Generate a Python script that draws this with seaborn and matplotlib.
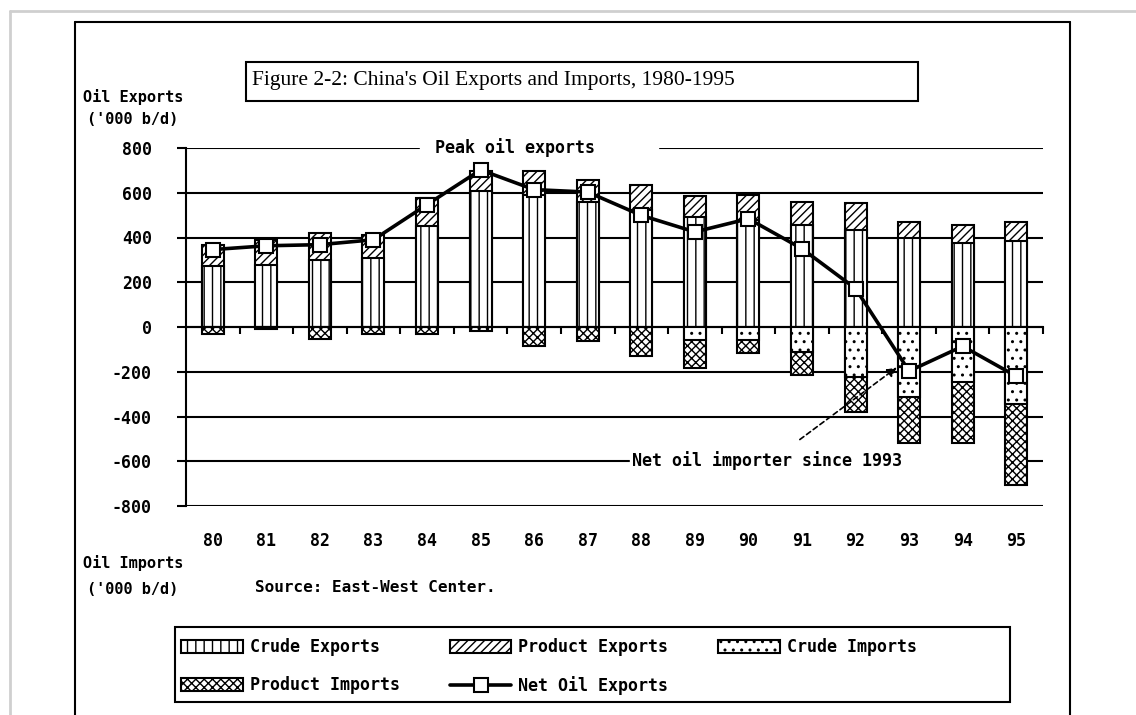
import numpy as np
import pandas as pd
import matplotlib
matplotlib.use("Agg")
import matplotlib.pyplot as plt
import seaborn as sns
from matplotlib.patches import Patch, Rectangle
from matplotlib.lines import Line2D

# ---------------- data ('000 b/d) ----------------
years = ['80', '81', '82', '83', '84', '85', '86', '87',
         '88', '89', '90', '91', '92', '93', '94', '95']
crude_exports = [271, 279, 301, 310, 450, 610, 590, 560, 525, 490, 480, 455, 435, 400, 376, 383]
product_exports = [97, 111, 119, 103, 125, 85, 105, 98, 111, 94, 112, 105, 120, 68, 80, 85]
crude_imports = [0, 0, 0, 0, 0, 0, 0, 0, 0, 56, 56, 113, 225, 312, 248, 346]
product_imports = [30, 8, 55, 30, 30, 20, 86, 63, 130, 126, 62, 103, 157, 206, 270, 358]
net_exports = [346, 363, 368, 390, 547, 702, 614, 603, 499, 425, 484, 350, 172, -197, -86, -220]
y_ticks = [800, 600, 400, 200, 0, -200, -400, -600, -800]

# ---------------- style ----------------
sns.set_theme(style='white')
plt.rcParams['font.family'] = ['DejaVu Sans Mono', 'DejaVu Sans']
plt.rcParams['font.weight'] = 'bold'
plt.rcParams['text.color'] = 'black'
plt.rcParams['xtick.color'] = 'black'
plt.rcParams['ytick.color'] = 'black'
plt.rcParams['axes.labelcolor'] = 'black'
plt.rcParams['hatch.linewidth'] = 1.0
plt.rcParams['hatch.color'] = 'black'

W, H = 1136, 715
fig = plt.figure(figsize=(W / 100, H / 100), dpi=100)
fig.patch.set_facecolor('white')


def fx(px):
    return px / W


def fy(py):
    return 1 - py / H


ax = fig.add_axes([fx(186), fy(506), (1043 - 186) / W, (506 - 148) / H])
ax.set_facecolor('white')

df = pd.DataFrame({'year': years,
                   'crude_exp': crude_exports,
                   'prod_exp': product_exports,
                   'crude_imp': crude_imports,
                   'prod_imp': product_imports,
                   'net': net_exports})
df['total_exp'] = df['crude_exp'] + df['prod_exp']
df['total_imp'] = -(df['crude_imp'] + df['prod_imp'])
df['crude_imp_neg'] = -df['crude_imp']

bw = 0.41
common = dict(data=df, x='year', order=years, width=bw, color='white', saturation=1,
              edgecolor='black', linewidth=1.5, errorbar=None, ax=ax, zorder=3)

HATCH_CE, HATCH_PE, HATCH_CI, HATCH_PI = '||', '////', '..', 'xxxx'

sns.barplot(y='total_exp', hatch=HATCH_PE, **common)
sns.barplot(y='crude_exp', hatch=HATCH_CE, **common)
sns.barplot(y='total_imp', hatch=HATCH_PI, **common)
sns.barplot(y='crude_imp_neg', hatch=HATCH_CI, **common)

sns.lineplot(x=np.arange(len(years)), y=df['net'].values, ax=ax, color='black', lw=2.6,
             marker='s', markersize=10, markerfacecolor='white', markeredgecolor='black',
             markeredgewidth=1.5, zorder=5)

ax.set_xlim(-0.5, len(years) - 0.5)
ax.set_ylim(-800, 800)
ax.set_yticks(y_ticks)
ax.set_yticklabels([str(v) for v in y_ticks])
ax.set_xticks(range(len(years)))
ax.set_xticklabels(years)
ax.set_xlabel('')
ax.set_ylabel('')
ax.set_axisbelow(True)
ax.yaxis.grid(True, color='black', lw=1.5)
ax.xaxis.grid(False)
for s in ['top', 'right', 'bottom']:
    ax.spines[s].set_visible(False)
ax.spines['left'].set_color('black')
ax.spines['left'].set_linewidth(1.5)
ax.tick_params(axis='y', left=True, direction='out', length=6.5, width=1.5,
               color='black', pad=18, labelsize=12, labelcolor='black')
ax.tick_params(axis='x', bottom=False, length=0, pad=19, labelsize=12, labelcolor='black')

# zero line with category-boundary ticks
sec = ax.secondary_xaxis(0.5)
sec.set_alignment('bottom')
sec.set_xticks(np.arange(0.5, len(years), 1.0))
sec.set_xticklabels([])
sec.tick_params(axis='x', bottom=True, direction='out', length=5, width=1.5, color='black')
sec.spines['bottom'].set_color('black')
sec.spines['bottom'].set_linewidth(1.5)


def ax_x(px):
    return (px - 186) / (1043 - 186)


def ax_y(py):
    return (506 - py) / (506 - 148)


# annotation text with white background over gridlines
ax.add_patch(Rectangle((ax_x(420), ax_y(157)), ax_x(658) - ax_x(420), ax_y(139) - ax_y(157),
                       transform=ax.transAxes, color='white', zorder=2, clip_on=False))
ax.text(ax_x(435), ax_y(148), 'Peak oil exports', transform=ax.transAxes,
        ha='left', va='center', fontsize=12, zorder=2.5, clip_on=False)
ax.add_patch(Rectangle((ax_x(630), ax_y(470)), ax_x(1005) - ax_x(630), ax_y(452) - ax_y(470),
                       transform=ax.transAxes, color='white', zorder=2))
ax.text(ax_x(632), ax_y(461), 'Net oil importer since 1993', transform=ax.transAxes,
        ha='left', va='center', fontsize=12, zorder=2.5)
ax.annotate('', xy=(12.77, -181), xytext=(10.96, -503), xycoords='data',
            arrowprops=dict(arrowstyle='-|>', color='black', lw=1.2, linestyle=(0, (3, 2)),
                            mutation_scale=14, shrinkA=0, shrinkB=0), zorder=6)

# side labels
fig.text(fx(133), fy(97), 'Oil Exports', ha='center', va='center', fontsize=11)
fig.text(fx(133), fy(120), "('000 b/d)", ha='center', va='center', fontsize=11)
fig.text(fx(133), fy(563), 'Oil Imports', ha='center', va='center', fontsize=11)
fig.text(fx(133), fy(590), "('000 b/d)", ha='center', va='center', fontsize=11)
fig.text(fx(255), fy(587), 'Source: East-West Center.', ha='left', va='center', fontsize=11.5)

# title box
fig.add_artist(Rectangle((fx(246), fy(101)), (918 - 246) / W, (101 - 62) / H,
                         transform=fig.transFigure, fill=False, ec='black', lw=1.5))
fig.text(fx(252), fy(81), "Figure 2-2: China's Oil Exports and Imports, 1980-1995",
         ha='left', va='center', fontsize=15.5, family='Liberation Serif', weight='normal')

# frames
for (x0, y0, x1, y1, c, lw) in [(10, 11, W, 11, '#cfcfcf', 2), (10, 11, 10, H, '#cfcfcf', 2),
                                (75, 22, 1070, 22, 'black', 1.5), (75, 22, 75, H, 'black', 1.5),
                                (1070, 22, 1070, H, 'black', 1.5)]:
    fig.add_artist(Line2D([fx(x0), fx(x1)], [fy(y0), fy(y1)], transform=fig.transFigure,
                          color=c, lw=lw))

# legend
fig.add_artist(Rectangle((fx(175), fy(702)), (1010 - 175) / W, (702 - 627) / H,
                         transform=fig.transFigure, fill=False, ec='black', lw=1.5))


def ph(h):
    return Patch(facecolor='white', edgecolor='black', hatch=h, lw=1.5)


handles = [ph(HATCH_CE), ph(HATCH_PI), ph(HATCH_PE),
           Line2D([], [], color='black', lw=2.6, marker='s', ms=10, mfc='white', mec='black', mew=1.5),
           ph(HATCH_CI)]
labels = ['Crude Exports', 'Product Imports', 'Product Exports', 'Net Oil Exports', 'Crude Imports']
fig.legend(handles, labels, loc='upper left', bbox_to_anchor=(fx(176), fy(633)), ncol=3,
           frameon=False, fontsize=12, handlelength=3.7, handleheight=0.8, handletextpad=0.42,
           columnspacing=3.0, labelspacing=1.2, borderpad=0.3, borderaxespad=0)

fig.savefig('out.png', dpi=100, facecolor='white')
